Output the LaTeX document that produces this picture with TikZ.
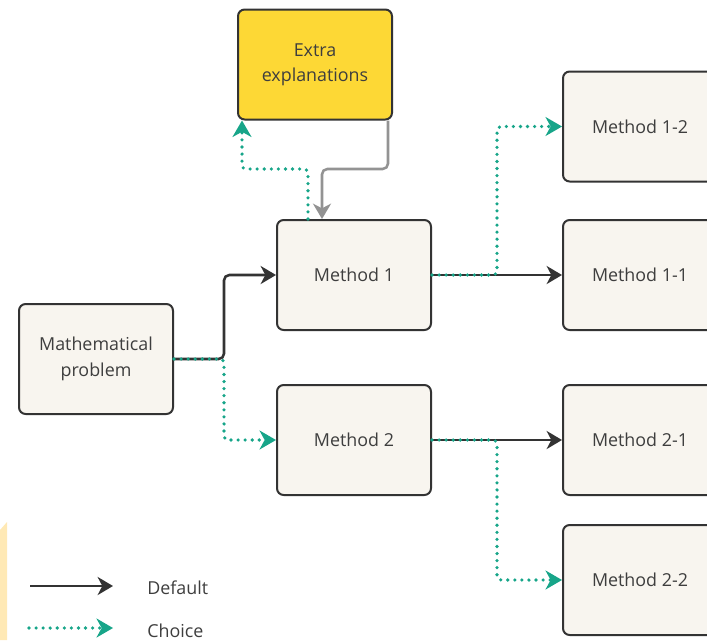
\documentclass[tikz,border=0pt]{standalone}
\usepackage{fontspec}
\setmainfont{Open Sans}
\usetikzlibrary{arrows.meta}
\definecolor{boxfill}{HTML}{F8F5EF}
\definecolor{boxline}{HTML}{333333}
\definecolor{yel}{HTML}{FDD835}
\definecolor{teal2}{HTML}{17A589}
\definecolor{txt}{HTML}{3E3E3E}
\definecolor{strip}{HTML}{FFE9B5}
\tikzset{
  box/.style={draw=boxline, line width=1.5pt, fill=boxfill, rounded corners=5pt,
    minimum width=115.5pt, minimum height=82.5pt, align=center, text=txt,
    font=\fontsize{13.4}{19}\selectfont, inner sep=0pt},
  def/.style={draw=boxline, line width=1.9pt, rounded corners=4pt,
    -{Stealth[length=11.5pt, width=13.5pt, inset=3.5pt]}},
  gry/.style={draw=gray!85, line width=1.9pt, rounded corners=4pt,
    -{Stealth[length=11.5pt, width=13.5pt, inset=3.5pt]}},
  ch/.style={draw=teal2, line width=2.7pt, line cap=round, dash pattern=on 0pt off 5.3pt,
    rounded corners=3pt,
    -{Stealth[length=12.5pt, width=14.5pt, inset=4pt, line width=0pt, fill=teal2, line cap=butt]}},
  lbl/.style={text=txt, font=\fontsize{13.4}{16}\selectfont, anchor=west, inner sep=0pt}
}
\begin{document}
\begin{tikzpicture}[x=0.75pt, y=-0.75pt]
\useasboundingbox (0,0) rectangle (707,640);
\clip (0,0) rectangle (707,640);
\fill[strip] (0,530) -- (7,522) -- (7,640) -- (0,640) -- cycle;

\node[box] (mp) at (96,359) {Mathematical\\problem};
\node[box] (m1) at (354,275) {Method 1};
\node[box] (m2) at (354,440) {Method 2};
\node[box, fill=yel] (ex) at (315,64.5) {Extra\\explanations};
\node[box] (m12) at (640,126.5) {Method 1-2};
\node[box] (m11) at (640,275) {Method 1-1};
\node[box] (m21) at (640,440) {Method 2-1};
\node[box] (m22) at (640,580) {Method 2-2};

\coordinate (j1) at (224,0);
\coordinate (j2) at (497,0);
\coordinate (gm) at (322,169);
\coordinate (tm) at (308,169);
\coordinate (te) at (242,169);
\coordinate (exo) at ([xshift=-3.75pt]ex.south east);

% defaults
\draw[def] (mp.east) -| (j1 |- m1) -- (m1.west);
\draw[def] (m1.east) -- (m11.west);
\draw[def] (m2.east) -- (m21.west);
\draw[gry] (exo) |- (gm) -- (gm |- m1.north);

% choices
\draw[ch] (mp.east) -| (j1 |- m2) -- (m2.west);
\draw[ch] (m1.east) -| (j2 |- m12) -- (m12.west);
\draw[ch] (m2.east) -| (j2 |- m22) -- (m22.west);
\draw[ch] (tm |- m1.north) -- (tm) -- (te) -- (te |- ex.south);

% legend
\coordinate (la1) at (30,586);
\coordinate (lb1) at (113,586);
\coordinate (la2) at (29,628);
\coordinate (lb2) at (113,628);
\draw[def] (la1) -- (lb1);
\draw[ch] (la2) -- (lb2);
\node[lbl] (t1) at (147,588) {Default};
\node[lbl] (t2) at (147,631) {Choice};
\end{tikzpicture}
\end{document}
